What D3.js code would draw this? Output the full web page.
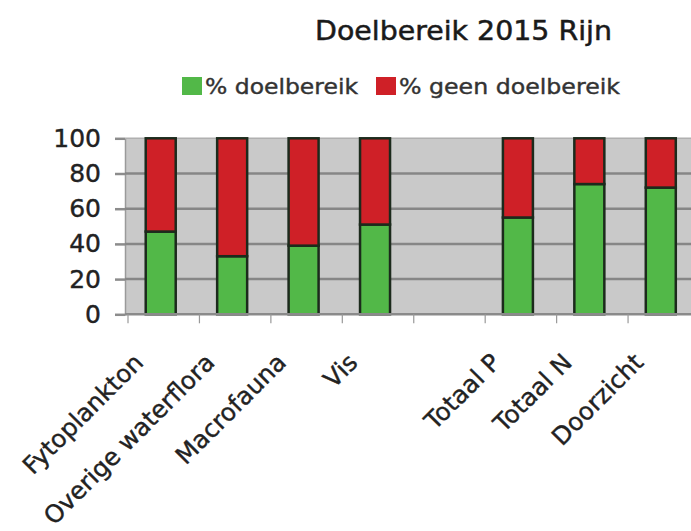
<!DOCTYPE html>
<html>
<head>
<meta charset="utf-8">
<script src="https://cdn.jsdelivr.net/npm/d3@7"></script>
<style>
  body { margin: 0; background: #fff; }
  svg { display: block; font-family: "DejaVu Sans", Verdana, sans-serif; }
</style>
</head>
<body>
<div id="chart"></div>
<script>
// categories (empty slot between Vis and Totaal P is part of the original chart)
const categories = ["Fytoplankton", "Overige waterflora", "Macrofauna", "Vis", "", "Totaal P", "Totaal N", "Doorzicht"];
const doelbereik = [47, 33, 39, 51, 0, 55, 74, 72];
const geenDoelbereik = [53, 67, 61, 49, 0, 45, 26, 28];
const seriesNames = ["% doelbereik", "% geen doelbereik"];
const seriesColors = ["#52b848", "#cf2027"];
const yTicks = [0, 20, 40, 60, 80, 100];

const W = 691, H = 531;
const svg = d3.select("#chart").append("svg").attr("width", W).attr("height", H);

const x = d3.scaleBand().domain(categories).range([125, 696.5]).padding(0);
const y = d3.scaleLinear().domain([0, 100]).range([314.3, 138.3]);
const barW = 30;

const rows = categories.map((c, i) => ({ cat: c, d: doelbereik[i], g: geenDoelbereik[i] }));
const stacked = d3.stack().keys(["d", "g"])(rows);

// plot background
svg.append("rect")
  .attr("x", x.range()[0]).attr("y", y(100))
  .attr("width", x.range()[1] - x.range()[0]).attr("height", y(0) - y(100))
  .attr("fill", "#c9c9c9");

// y axis + gridlines
const yAxis = svg.append("g").attr("transform", `translate(${x.range()[0]},0)`)
  .call(d3.axisLeft(y).tickValues(yTicks).tickSize(10).tickPadding(14));
yAxis.select(".domain").attr("stroke", "#9a9a9a").attr("stroke-width", 1.5);
yAxis.selectAll(".tick line").attr("stroke", "#8c8c8c").attr("stroke-width", 2.5);
yAxis.selectAll(".tick text")
  .attr("font-size", 25).attr("fill", "#222").attr("font-family", "DejaVu Sans, sans-serif")
  .attr("stroke", "#222").attr("stroke-width", 0.4);

svg.append("g").selectAll("line").data(yTicks.filter(t => t > 0)).join("line")
  .attr("x1", x.range()[0]).attr("x2", x.range()[1])
  .attr("y1", d => y(d)).attr("y2", d => y(d))
  .attr("stroke", d => d === 100 ? "#b0b0b0" : "#868686")
  .attr("stroke-width", d => d === 100 ? 1.5 : 2.5);

// bars
svg.append("g").selectAll("g").data(stacked).join("g")
  .attr("fill", (s, i) => seriesColors[i])
  .selectAll("rect").data(s => s.filter(p => p.data.cat !== "")).join("rect")
  .attr("x", p => x(p.data.cat) + x.bandwidth() / 2 - barW / 2)
  .attr("y", p => y(p[1]))
  .attr("width", barW)
  .attr("height", p => y(p[0]) - y(p[1]))
  .attr("stroke", "#1c2a1c")
  .attr("stroke-width", 2.5);

// x axis line and boundary ticks
svg.append("line")
  .attr("x1", x.range()[0]).attr("x2", W)
  .attr("y1", y(0)).attr("y2", y(0))
  .attr("stroke", "#8a8a8a").attr("stroke-width", 2.5);
svg.append("g").selectAll("line").data(categories).join("line")
  .attr("x1", c => x(c) + 3).attr("x2", c => x(c) + 3)
  .attr("y1", y(0)).attr("y2", y(0) + 9)
  .attr("stroke", "#999").attr("stroke-width", 1.2);

// category labels
svg.append("g").selectAll("text").data(categories.filter(c => c !== "")).join("text")
  .attr("transform", c => `translate(${x(c) + x.bandwidth() / 2 - 16},364) rotate(-45)`)
  .attr("text-anchor", "end")
  .attr("font-size", 24.5)
  .attr("fill", "#222")
  .attr("stroke", "#222").attr("stroke-width", 0.4)
  .text(c => c);

// title
svg.append("text")
  .attr("x", 315).attr("y", 39.5)
  .attr("font-size", 26).attr("fill", "#1a1a1a")
  .attr("textLength", 297).attr("lengthAdjust", "spacingAndGlyphs")
  .attr("stroke", "#1a1a1a").attr("stroke-width", 0.5)
  .text("Doelbereik 2015 Rijn");

// legend
const legendX = [182, 376], legendTextLen = [153, 221];
const legend = svg.append("g").selectAll("g").data(seriesNames).join("g")
  .attr("transform", (d, i) => `translate(${legendX[i]},77)`);
legend.append("rect").attr("width", 20).attr("height", 18)
  .attr("fill", (d, i) => seriesColors[i]);
legend.append("text")
  .attr("x", 23).attr("y", 16.5)
  .attr("font-size", 21).attr("fill", "#333")
  .attr("textLength", (d, i) => legendTextLen[i]).attr("lengthAdjust", "spacingAndGlyphs")
  .attr("stroke", "#333").attr("stroke-width", 0.4)
  .text(d => d);
</script>
</body>
</html>
